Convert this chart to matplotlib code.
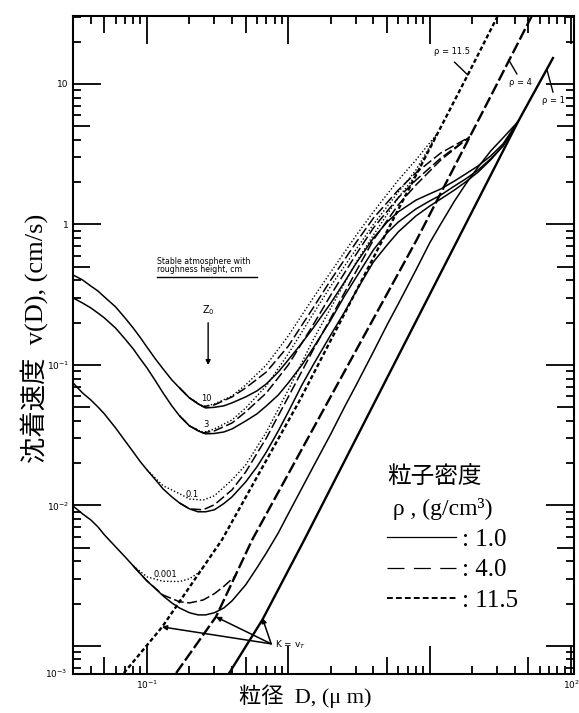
import matplotlib
matplotlib.use('Agg')
import matplotlib.pyplot as plt
from matplotlib.lines import Line2D
from matplotlib.ticker import LogLocator, NullLocator, NullFormatter, FixedLocator

# particle diameter grid (um) used by the rho = 1 curves
d_grid = [0.03, 0.035, 0.04, 0.045, 0.05, 0.06, 0.07, 0.08, 0.09, 0.1,
          0.115, 0.13, 0.15, 0.17, 0.2, 0.23, 0.26, 0.3, 0.35, 0.4,
          0.5, 0.6, 0.7, 0.85, 1.0, 1.25, 1.5, 2, 2.5, 3,
          4, 5, 6, 8, 10, 12, 15, 18, 22, 27, 33, 42]

# rho = 1.0 g/cm3, roughness heights z0 = 10, 3, 0.1, 0.001 cm
v1_z10 = [0.437, 0.403, 0.365, 0.336, 0.305, 0.259, 0.216, 0.183, 0.156, 0.134,
          0.110, 0.0937, 0.0782, 0.0686, 0.0582, 0.0527, 0.0494, 0.0499, 0.0511, 0.0537,
          0.0592, 0.0653, 0.0733, 0.0891, 0.1086, 0.1436, 0.183, 0.276, 0.390, 0.524,
          0.80, 1.04, 1.23, 1.49, 1.65, 1.79, 2.04, 2.29, 2.61, 3.07, 3.74, 5.37]
v1_z3 = [0.300, 0.276, 0.255, 0.234, 0.216, 0.183, 0.153, 0.130, 0.110, 0.0953,
         0.0769, 0.0632, 0.0511, 0.0434, 0.0368, 0.0339, 0.0323, 0.0325, 0.0333, 0.0350,
         0.0399, 0.0448, 0.0511, 0.0611, 0.0745, 0.100, 0.132, 0.209, 0.310, 0.416,
         0.659, 0.871, 1.04, 1.29, 1.47, 1.62, 1.88, 2.11, 2.44, 2.93, 3.62, 5.37]
v1_z01 = [0.0745, 0.0632, 0.0564, 0.0502, 0.0448, 0.0356, 0.0288, 0.0240, 0.0204, 0.0179,
          0.0152, 0.0131, 0.0115, 0.0104, 0.00944, 0.0090, 0.0090, 0.0093, 0.0103, 0.0115,
          0.0147, 0.0188, 0.0240, 0.0339, 0.0463, 0.0721, 0.100, 0.164, 0.238, 0.331,
          0.541, 0.714, 0.885, 1.15, 1.35, 1.52, 1.76, 2.01, 2.36, 2.88, 3.62, 5.37]
v1_z0001 = [0.0099, 0.00871, 0.00789, 0.00703, 0.00617, 0.00507, 0.00430, 0.00371, 0.00325, 0.00290,
            0.00255, 0.00227, 0.00202, 0.00186, 0.00172, 0.00166, 0.00166, 0.00172, 0.00186, 0.00209,
            0.00272, 0.00359, 0.00459, 0.00637, 0.00871, 0.0133, 0.0188, 0.0323, 0.0502, 0.0709,
            0.124, 0.193, 0.272, 0.474, 0.738, 1.01, 1.47, 1.94, 2.56, 3.33, 4.13, 5.37]

# rho = 4.0 g/cm3
d4 = [0.17, 0.2, 0.25, 0.3, 0.4, 0.5, 0.7, 1.0, 1.5, 2, 3, 4, 6, 8, 12, 19.2]
v4_z10 = [0.0686, 0.0582, 0.0505, 0.0519, 0.0592, 0.0686, 0.0891, 0.136, 0.255, 0.403, 0.738,
          1.11, 1.76, 2.33, 3.23, 4.2]
v4_z3 = [0.0434, 0.0368, 0.0328, 0.0339, 0.0386, 0.0463, 0.0632, 0.100, 0.193, 0.315, 0.607,
         0.944, 1.55, 2.07, 2.97, 4.2]
v4_z01 = [0.0104, 0.00944, 0.0093, 0.0101, 0.0129, 0.0173, 0.0302, 0.0592, 0.128, 0.216, 0.459,
          0.776, 1.38, 1.91, 2.88, 4.2]
d4_z0001 = [0.08, 0.1, 0.13, 0.17, 0.2, 0.25, 0.3, 0.35, 0.43]
v4_z0001 = [0.00371, 0.00290, 0.00230, 0.00206, 0.00202, 0.00212, 0.00235, 0.00265, 0.0032]

# rho = 11.5 g/cm3
d11 = [0.17, 0.2, 0.25, 0.3, 0.4, 0.5, 0.7, 1.0, 1.5, 2, 3, 4, 6, 8, 11.4]
v11_z10 = [0.0686, 0.0582, 0.0505, 0.0527, 0.0601, 0.0721, 0.100, 0.161, 0.300, 0.459, 0.828,
           1.23, 2.07, 2.88, 4.48]
v11_z3 = [0.0434, 0.0368, 0.033, 0.035, 0.0406, 0.0494, 0.071, 0.120, 0.231, 0.365, 0.659,
          1.0, 1.70, 2.44, 4.48]
d11_z01 = [0.1, 0.13, 0.17, 0.2, 0.25, 0.3, 0.4, 0.5, 0.7, 1.0, 1.5, 2, 3, 4, 6, 8, 11.4]
v11_z01 = [0.0179, 0.0138, 0.0121, 0.0111, 0.0109, 0.0117, 0.0152, 0.0194, 0.0333, 0.0664, 0.151,
           0.255, 0.532, 0.841, 1.55, 2.25, 4.48]
d11_z0001 = [0.08, 0.1, 0.13, 0.17, 0.2, 0.23, 0.25]
v11_z0001 = [0.00371, 0.0031, 0.00288, 0.00287, 0.0030, 0.0033, 0.0036]

# gravitational settling lines (K = v_T)
vt1_d = [0.382, 0.655, 1.30, 42.1, 74.5]
vt1_v = [6.4e-4, 1.53e-3, 5.7e-3, 5.37, 15.3]
vt4_d = [0.161, 0.308, 0.556, 8.09, 28.0, 52.8]
vt4_v = [6.4e-4, 1.61e-3, 5.7e-3, 0.776, 8.77, 30.5]
vt11_d = [0.0687, 0.128, 0.340, 1.20, 18.6, 30.3]
vt11_v = [6.4e-4, 1.36e-3, 5.7e-3, 0.0555, 11.6, 30.5]

z0_labels = ['10', '3', '0.1', '0.001']
z0_label_d = [0.262, 0.262, 0.209, 0.136]
z0_label_v = [0.0573, 0.0374, 0.0119, 0.0032]

LW = 1.1
SOLID = dict(color='k', lw=LW, solid_capstyle='butt')
DASH = dict(color='k', lw=LW, dashes=(6.5, 2.3))
DOT = dict(color='k', lw=1.0, dashes=(1, 1.5))

JP = ['Liberation Serif', 'Noto Sans CJK JP']

fig = plt.figure(figsize=(5.79, 7.13), dpi=100)
ax = fig.add_axes([0.1261, 0.0547, 0.8653, 0.9229])
ax.set_xscale('log')
ax.set_yscale('log')

# roughness curves
for v in [v1_z10, v1_z3, v1_z01, v1_z0001]:
    ax.plot(d_grid, v, **SOLID)
for v in [v4_z10, v4_z3, v4_z01]:
    ax.plot(d4, v, **DASH)
ax.plot(d4_z0001, v4_z0001, **DASH)
for v in [v11_z10, v11_z3]:
    ax.plot(d11, v, **DOT)
ax.plot(d11_z01, v11_z01, **DOT)
ax.plot(d11_z0001, v11_z0001, **DOT)

# settling velocity lines
ax.plot(vt1_d, vt1_v, color='k', lw=1.7)
ax.plot(vt4_d, vt4_v, color='k', lw=1.7, dashes=(5, 1.5))
ax.plot(vt11_d, vt11_v, color='k', lw=1.7, dashes=(1.8, 1.1))

ax.set_xlim(0.03, 105)
ax.set_ylim(6.3e-4, 30.5)

# ticks: inward on all sides, long at decades, short minors
for axis in [ax.xaxis, ax.yaxis]:
    axis.set_minor_locator(LogLocator(base=10, subs=[2, 3, 4, 6, 7, 8, 9], numticks=20))
    axis.set_minor_formatter(NullFormatter())
ax.tick_params(which='both', direction='in', top=True, right=True, width=1.3, colors='k',
               labelsize=6.5, pad=3)
ax.tick_params(which='major', length=20)
ax.tick_params(which='minor', length=6)
ax.set_xticks([0.1, 1, 10, 100], ['$10^{-1}$', '', '', '$10^{2}$'])
ax.set_yticks([1e-3, 1e-2, 1e-1, 1, 10], ['', '$10^{-2}$', '$10^{-1}$', '1', '10'])
ax.text(-0.012, 0.0, '$10^{-3}$', transform=ax.transAxes, ha='right', va='center', fontsize=6.5)
for s in ax.spines.values():
    s.set_linewidth(1.5)

# half-decade ticks (5 x 10^n), medium length
for side in ['bottom', 'top']:
    sx = ax.secondary_xaxis(side)
    sx.xaxis.set_major_locator(FixedLocator([0.05, 0.5, 5, 50]))
    sx.xaxis.set_minor_locator(NullLocator())
    sx.tick_params(direction='in', length=12, width=1.3, labelbottom=False, labeltop=False)
    sx.spines[side].set_visible(False)
for side in ['left', 'right']:
    sy = ax.secondary_yaxis(side)
    sy.yaxis.set_major_locator(FixedLocator([5e-3, 5e-2, 0.5, 5]))
    sy.yaxis.set_minor_locator(NullLocator())
    sy.tick_params(direction='in', length=12, width=1.3, labelleft=False, labelright=False)
    sy.spines[side].set_visible(False)

# annotations
for lab, d, v in zip(z0_labels, z0_label_d, z0_label_v):
    ax.text(d, v, lab, fontsize=6, ha='center', va='center', family='DejaVu Sans')

ax.text(0.118, 0.541, 'Stable atmosphere with', fontsize=5.6, va='center', family='DejaVu Sans')
ax.text(0.118, 0.474, 'roughness height, cm', fontsize=5.6, va='center', family='DejaVu Sans')
ax.plot([0.118, 0.603], [0.423, 0.423], color='k', lw=1.0)

ax.text(0.271, 0.246, 'Z$_0$', fontsize=7, ha='center', va='center', family='DejaVu Sans')
ax.annotate('', xy=(0.271, 0.0953), xytext=(0.271, 0.209),
            arrowprops=dict(arrowstyle='-|>', color='k', lw=1.0, mutation_scale=7))

ax.text(0.80, 1.02e-3, 'K = v$_T$', fontsize=6.5, ha='left', va='center', family='DejaVu Sans')
for tip in [(0.1276, 1.364e-3), (0.308, 1.607e-3), (0.655, 1.58e-3)]:
    ax.annotate('', xy=tip, xytext=(0.757, 1.033e-3),
                arrowprops=dict(arrowstyle='-|>', color='k', lw=1.1, mutation_scale=7,
                                shrinkA=0, shrinkB=0))

ax.text(14.3, 16.9, 'ρ = 11.5', fontsize=6, ha='center', va='center', family='DejaVu Sans')
ax.plot([18.6, 15.0], [11.6, 14.3], color='k', lw=1.0)
ax.text(44.2, 10.3, 'ρ = 4', fontsize=6, ha='center', va='center', family='DejaVu Sans')
ax.plot([36.3, 41.4], [14.8, 11.8], color='k', lw=1.0)
ax.text(74.5, 7.57, 'ρ = 1', fontsize=6, ha='center', va='center', family='DejaVu Sans')
ax.plot([67.6, 74.5], [12.6, 8.77], color='k', lw=1.0)

# density legend
ax.text(0.627, 0.299, '粒子密度', transform=ax.transAxes, family=JP, fontsize=17,
        ha='left', va='center')
handles = [Line2D([], [], color='k', lw=0.9),
           Line2D([], [], color='k', lw=0.9, dashes=(13.6, 7.5)),
           Line2D([], [], color='k', lw=1.4, dashes=(3, 1.6))]
leg = ax.legend(handles, [': 1.0', ': 4.0', ': 11.5'], title=' ρ , (g/cm³)',
                loc='upper left', bbox_to_anchor=(0.627, 0.2675), frameon=False,
                borderaxespad=0, handlelength=2.75, handletextpad=0.25, labelspacing=0.33,
                borderpad=0, alignment='left', prop=dict(family=JP, size=18),
                title_fontproperties=dict(family=JP, size=17))

ax.set_ylabel('沈着速度  v(D), (cm/s)', family=JP, fontsize=19)
ax.yaxis.set_label_coords(-0.05, 0.51)
ax.set_xlabel('粒径  D, (μ m)', family=JP, fontsize=16)
ax.xaxis.set_label_coords(0.463, -0.016)

fig.savefig('out.png', dpi=100)
